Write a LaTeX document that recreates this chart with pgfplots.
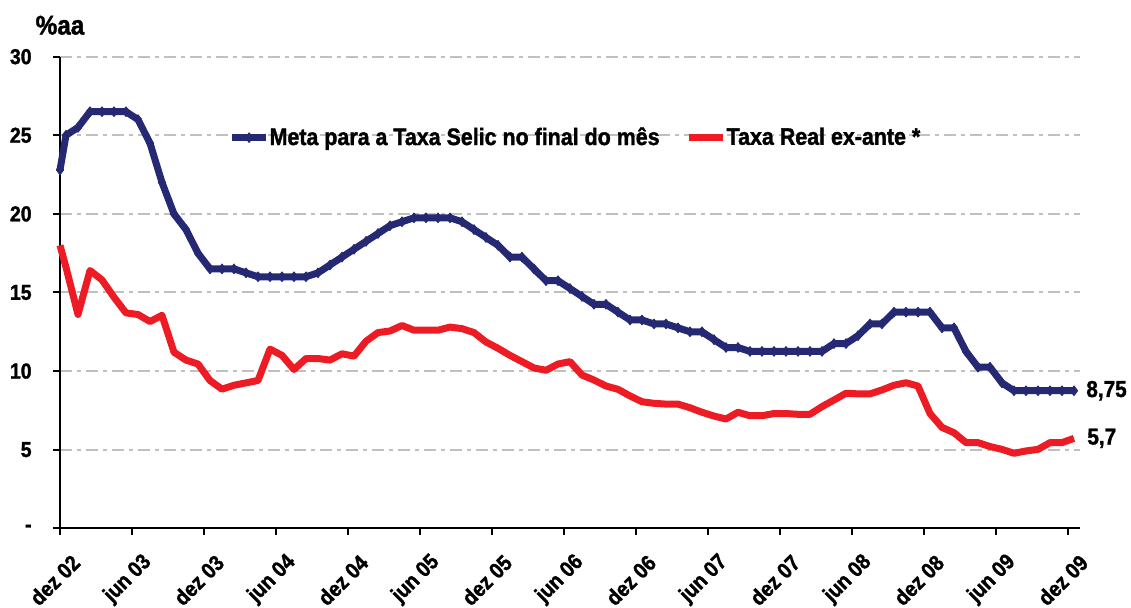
\documentclass[border=0pt]{standalone}
\usepackage{pgfplots}
\pgfplotsset{compat=1.18}
\usepackage{pgfplotstable}
\usepackage{fontspec}
\setmainfont{Liberation Sans}[FakeStretch=0.9, BoldFeatures={FakeBold=1.5}]
\definecolor{selicblue}{RGB}{37,41,115}
\definecolor{realred}{RGB}{237,28,36}
\definecolor{gridgray}{RGB}{192,192,192}

\pgfplotstableread{
x selic real
0 22.8 18.0
0.5 25 16.6
1.5 25.5 13.6
2.5 26.5 16.4
3.5 26.5 15.8
4.5 26.5 14.7
5.5 26.5 13.7
6.5 26 13.6
7.5 24.5 13.15
8.5 22 13.55
9.5 20 11.2
10.5 19 10.7
11.5 17.5 10.45
12.5 16.5 9.4
13.5 16.5 8.85
14.5 16.5 9.1
15.5 16.25 9.25
16.5 16 9.4
17.5 16 11.4
18.5 16 11.0
19.5 16 10.1
20.5 16 10.8
21.5 16.25 10.8
22.5 16.75 10.7
23.5 17.25 11.1
24.5 17.75 10.95
25.5 18.25 11.9
26.5 18.75 12.45
27.5 19.25 12.55
28.5 19.5 12.9
29.5 19.75 12.6
30.5 19.75 12.6
31.5 19.75 12.6
32.5 19.75 12.8
33.5 19.5 12.7
34.5 19 12.45
35.5 18.5 11.85
36.5 18 11.45
37.5 17.25 11.0
38.5 17.25 10.6
39.5 16.5 10.2
40.5 15.75 10.05
41.5 15.75 10.45
42.5 15.25 10.6
43.5 14.75 9.75
44.5 14.25 9.43
45.5 14.25 9.05
46.5 13.75 8.84
47.5 13.25 8.42
48.5 13.25 8.05
49.5 13 7.95
50.5 13 7.9
51.5 12.75 7.9
52.5 12.5 7.67
53.5 12.5 7.38
54.5 12 7.14
55.5 11.5 6.95
56.5 11.5 7.38
57.5 11.25 7.16
58.5 11.25 7.16
59.5 11.25 7.3
60.5 11.25 7.3
61.5 11.25 7.25
62.5 11.25 7.25
63.5 11.25 7.74
64.5 11.75 8.16
65.5 11.75 8.59
66.5 12.25 8.55
67.5 13 8.55
68.5 13 8.8
69.5 13.75 9.1
70.5 13.75 9.26
71.5 13.75 9.05
72.5 13.75 7.3
73.5 12.75 6.42
74.5 12.75 6.08
75.5 11.25 5.45
76.5 10.25 5.45
77.5 10.25 5.2
78.5 9.25 5.02
79.5 8.75 4.77
80.5 8.75 4.92
81.5 8.75 5.02
82.5 8.75 5.45
83.5 8.75 5.45
84.5 8.75 5.72
}\datatable

\begin{document}
\begin{tikzpicture}
\useasboundingbox (-30pt,-39.85pt) rectangle (535.5pt,264.15pt);
\begin{axis}[
  at={(0,0)}, anchor=south west,
  scale only axis,
  width=510pt, height=235.8pt,
  xmin=0, xmax=85, ymin=0, ymax=30,
  axis x line=bottom, axis y line=left,
  axis line style={-, black, line width=1.1pt},
  xtick={0,6,...,84},
  xticklabels={dez 02, jun 03, dez 03, jun 04, dez 04, jun 05, dez 05, jun 06, dez 06, jun 07, dez 07, jun 08, dez 08, jun 09, dez 09},
  ytick={0,5,...,30},
  yticklabels={-\hspace{4pt}, 5, 10, 15, 20, 25, 30},
  tick align=outside,
  major tick length=3.5pt,
  tick style={black, line width=1pt},
  ymajorgrids=true,
  grid style={gridgray, line width=1pt, dash pattern=on 6pt off 2.5pt on 2pt off 2.5pt},
  yticklabel style={font=\bfseries\fontsize{10.8}{12}\selectfont, inner sep=0pt, xshift=-10.5pt},
  xticklabel style={font=\bfseries\fontsize{10.9}{12}\selectfont, rotate=45, anchor=east, inner sep=0pt, xshift=-2.5pt, yshift=-14pt},
  clip=false,
  legend columns=2,
  legend style={at={(axis cs:14.05,24.85)}, anchor=west, draw=none, fill=none,
    font=\bfseries\fontsize{11.9}{13}\selectfont, inner sep=0pt, outer sep=0pt,
    nodes={inner xsep=0pt, inner ysep=1pt},
    /tikz/every even column/.append style={column sep=13pt}},
  legend cell align=left,
  legend image code/.code={\draw[#1, mark indices={2}] plot coordinates {(0pt,0pt) (8.5pt,0pt) (17pt,0pt)};},
]
\addplot[selicblue, line width=3.5pt, line join=round, mark=diamond*, mark size=2.4pt,
  mark options={solid, line width=0.5pt}]
  table[x=x, y=selic] {\datatable};
\addlegendentry{Meta para a Taxa Selic no final do mês}
\addplot[realred, line width=3.5pt, line join=round, mark=none]
  table[x=x, y=real] {\datatable};
\addlegendentry{Taxa Real ex-ante *}
\node[anchor=west, inner sep=0pt, xshift=6pt, font=\bfseries\fontsize{11.5}{12}\selectfont] at (axis cs:84.5,8.75) {8,75};
\node[anchor=west, inner sep=0pt, xshift=6.5pt, font=\bfseries\fontsize{11.5}{12}\selectfont] at (axis cs:84.5,5.72) {5,7};
\node[font=\bfseries\fontsize{13.5}{15}\selectfont] at (axis cs:0,32.0) {\%aa};
\end{axis}
\end{tikzpicture}
\end{document}
